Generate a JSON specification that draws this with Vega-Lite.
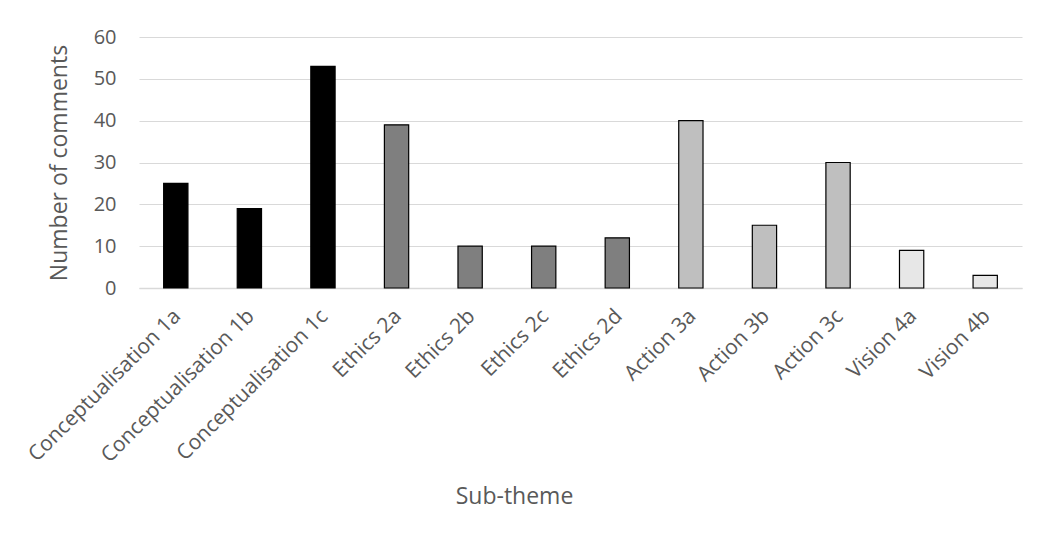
{
  "$schema": "https://vega.github.io/schema/vega-lite/v6.json",
  "width": 883,
  "height": 251,
  "autosize": {"type": "none"},
  "padding": {"left": 139, "top": 37, "right": 18, "bottom": 250},
  "background": "white",
  "config": {"view": {"stroke": null}, "font": "Open Sans"},
  "data": {"values": [
    {"sub": "Conceptualisation 1a", "theme": "Conceptualisation", "n": 25},
    {"sub": "Conceptualisation 1b", "theme": "Conceptualisation", "n": 19},
    {"sub": "Conceptualisation 1c", "theme": "Conceptualisation", "n": 53},
    {"sub": "Ethics 2a", "theme": "Ethics", "n": 39},
    {"sub": "Ethics 2b", "theme": "Ethics", "n": 10},
    {"sub": "Ethics 2c", "theme": "Ethics", "n": 10},
    {"sub": "Ethics 2d", "theme": "Ethics", "n": 12},
    {"sub": "Action 3a", "theme": "Action", "n": 40},
    {"sub": "Action 3b", "theme": "Action", "n": 15},
    {"sub": "Action 3c", "theme": "Action", "n": 30},
    {"sub": "Vision 4a", "theme": "Vision", "n": 9},
    {"sub": "Vision 4b", "theme": "Vision", "n": 3}
  ]},
  "mark": {"type": "bar", "stroke": "#000000", "strokeWidth": 1.2},
  "encoding": {
    "x": {"field": "sub", "type": "nominal", "sort": null,
      "scale": {"paddingInner": 0.67, "paddingOuter": 0.335},
      "axis": {"title": "Sub-theme", "labelAngle": -45, "labelFontSize": 21, "labelColor": "#595959", "labelLimit": 400, "labelOffset": -6,
        "titleFontSize": 23, "titleFontWeight": "normal", "titleColor": "#595959",
        "titleX": 375, "titleY": 197, "titleAlign": "center", "titleBaseline": "top",
        "ticks": false, "domainColor": "#d9d9d9", "domainWidth": 1.5, "labelPadding": 17}},
    "y": {"field": "n", "type": "quantitative",
      "scale": {"domain": [0, 60]},
      "axis": {"title": "Number of comments", "values": [0,10,20,30,40,50,60], "labelFontSize": 20, "labelColor": "#595959",
        "titleFontSize": 23, "titleFontWeight": "normal", "titleColor": "#595959", "titlePadding": 22,
        "ticks": false, "domain": false, "gridColor": "#d9d9d9", "gridWidth": 1.2, "labelPadding": 23}},
    "fill": {"field": "theme", "type": "nominal", "legend": null,
      "scale": {"domain": ["Conceptualisation", "Ethics", "Action", "Vision"],
        "range": ["#000000", "#7f7f7f", "#bfbfbf", "#e7e7e7"]}}
  }
}
